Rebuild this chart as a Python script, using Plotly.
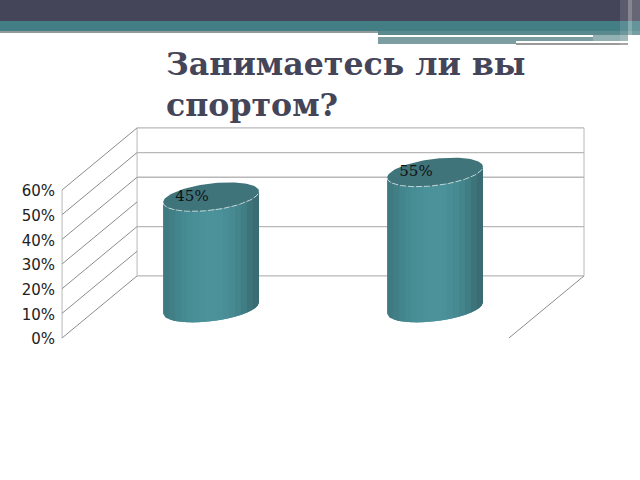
import numpy as np
import plotly.graph_objects as go

categories = [0, 1]
values = [0.45, 0.55]
labels = ["45%", "55%"]
tick_vals = [0, 0.1, 0.2, 0.3, 0.4, 0.5, 0.6]
tick_text = ["0%", "10%", "20%", "30%", "40%", "50%", "60%"]
back_grid = [0, 0.2, 0.4, 0.5, 0.6]

# 224 px between the two cylinders, 246.7 px per 100%
x_range = [-0.942, 1.915]
y_range = [-0.5756, 1.370]

depth_x = 0.335
depth_y = 0.2516
wall_left = -0.665
wall_right = 1.33
base_y = 0.122
radius = 0.214
rx_tilt = 0.0223
ry = 0.0543

stripes = ["#3f7a80", "#417f86", "#43858c", "#458a91", "#478d95", "#498f97",
           "#4a9199", "#4b929a", "#4b929a", "#4b9199", "#498e96", "#478a92",
           "#44858c", "#417d84", "#3d747a", "#3a6c72"]

GRID = "#b8b8b8"
DIAG = "#8c8c8c"

fig = go.Figure()


def line(xs, ys, color, width=1):
    fig.add_trace(go.Scatter(x=xs, y=ys, mode="lines", line=dict(color=color, width=width),
                             hoverinfo="skip", showlegend=False))


# side wall and back wall
line([wall_left, wall_left], [0, 0.6], GRID)
line([wall_left + depth_x, wall_left + depth_x], [depth_y, depth_y + 0.6], GRID)
line([wall_right + depth_x, wall_right + depth_x], [depth_y, depth_y + 0.6], GRID)
for v in tick_vals:
    line([wall_left, wall_left + depth_x], [v, v + depth_y], DIAG)
for v in back_grid:
    line([wall_left + depth_x, wall_right + depth_x], [v + depth_y, v + depth_y], GRID, 1.3)
line([wall_right + depth_x, wall_right], [depth_y, 0], DIAG)

# cylinders
t_front = np.linspace(np.pi, 2 * np.pi, 60)
t_full = np.linspace(0, 2 * np.pi, 120)
for cat, val in zip(categories, values):
    top = base_y + val
    edges = np.linspace(-1, 1, len(stripes) + 1)
    for i, col in enumerate(stripes):
        # each stripe runs under the next one so no seams show
        end = edges[min(i + 2, len(stripes))]
        u = np.linspace(edges[i], end, 12)
        s = np.sqrt(np.clip(1 - u ** 2, 0, 1))
        xs = cat + radius * u
        y_bot = base_y + rx_tilt * u - ry * s
        y_top = top + rx_tilt * u - ry * s
        fig.add_trace(go.Scatter(x=np.r_[xs, xs[::-1]], y=np.r_[y_bot, y_top[::-1]],
                                 mode="lines", fill="toself", fillcolor=col,
                                 line=dict(width=0), hoverinfo="skip", showlegend=False))
    fig.add_trace(go.Scatter(x=cat + radius * np.cos(t_full),
                             y=top + rx_tilt * np.cos(t_full) + ry * np.sin(t_full),
                             mode="lines", fill="toself", fillcolor="#3f747a",
                             line=dict(width=0), hoverinfo="skip", showlegend=False))
    fig.add_trace(go.Scatter(x=cat + radius * np.cos(t_front),
                             y=top + rx_tilt * np.cos(t_front) + ry * np.sin(t_front),
                             mode="lines", line=dict(color="rgba(255,255,255,0.8)", width=0.8, dash="6px,2px"),
                             hoverinfo="skip", showlegend=False))

fig.add_trace(go.Scatter(x=[c - 0.085 for c in categories],
                         y=[base_y + v - 0.002 for v in values],
                         mode="text", text=labels, textposition="middle center",
                         textfont=dict(family="DejaVu Serif", size=15, color="#111111"),
                         hoverinfo="skip", showlegend=False))


def band(x0, y0, x1, y1, color):
    fig.add_shape(type="rect", xref="paper", yref="paper", layer="below", line_width=0,
                  x0=x0 / 640, x1=x1 / 640, y0=1 - y1 / 480, y1=1 - y0 / 480, fillcolor=color)


# slide header
band(0, 0, 640, 21, "#444558")
band(0, 21, 640, 31, "#437e84")
band(0, 31, 378, 33, "#8f9a9b")
band(378, 31, 640, 35, "#5b8a8e")
band(378, 35, 593, 37, "#ffffff")
band(593, 35, 628, 44, "#93b0b2")
band(378, 37, 593, 44, "#7d9ea1")
band(516, 41, 628, 43, "#ffffff")
band(516, 43, 628, 45, "#9a9a9a")
band(620, 0, 628, 45, "rgba(255,255,255,0.12)")
band(628, 0, 632, 45, "rgba(255,255,255,0.35)")
band(632, 0, 640, 45, "rgba(255,255,255,0.18)")

fig.update_layout(
    width=640, height=480,
    margin=dict(l=0, r=0, t=0, b=0),
    paper_bgcolor="white", plot_bgcolor="rgba(0,0,0,0)",
    showlegend=False,
    title=dict(text="Занимаетесь ли вы<br>спортом?", x=166 / 640, xanchor="left",
               y=1 - 75 / 480, yanchor="top", pad=dict(l=0, t=0),
               font=dict(family="DejaVu Serif", size=31.6, color="#45455a", weight="bold")),
    xaxis=dict(range=x_range, visible=False, fixedrange=True),
    yaxis=dict(range=y_range, tickvals=tick_vals, ticktext=tick_text, showgrid=False,
               zeroline=False, showline=False, anchor="free", position=55 / 640, ticks="",
               ticklabelshift=1,
               tickfont=dict(family="DejaVu Sans", size=15, color="#222222")),
)

# the page keeps a default body margin otherwise
fig.write_html("out.html", config={"displayModeBar": False},
               post_script="document.body.style.margin='0';document.documentElement.style.overflow='hidden';")
